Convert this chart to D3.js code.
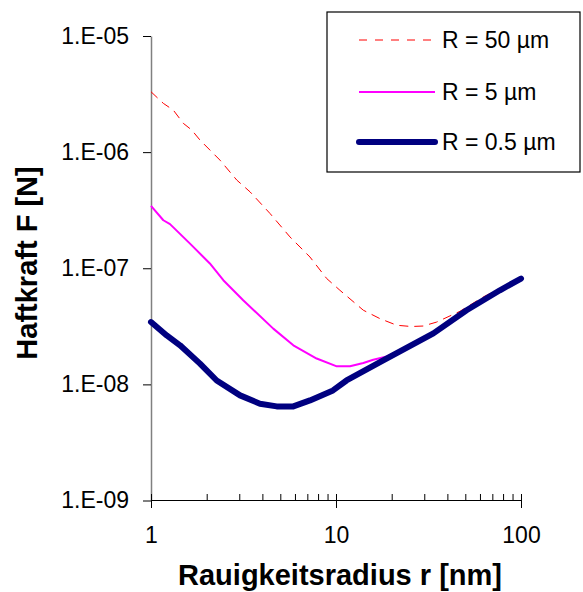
<!DOCTYPE html>
<html>
<head>
<meta charset="utf-8">
<script src="https://cdn.jsdelivr.net/npm/d3@7"></script>
<style>
  body { margin: 0; background: #fff; }
  svg { display: block; font-family: Arial, "Liberation Sans", sans-serif; }
</style>
</head>
<body>
<svg id="chart" width="583" height="592"></svg>
<script>
// ---- data ----
const seriesNames = ["R = 50 µm", "R = 5 µm", "R = 0.5 µm"];

// R = 50 µm (red dashed)
const r50 = [1.0, 1.166, 1.32, 1.495, 1.66, 1.84, 2.36, 2.91, 3.43, 4.40, 5.64, 7.23, 8.91, 10.5, 14.05, 17.3, 21.3, 25.5, 29.6, 35.0, 46.8, 62.5, 76.9, 100];
const f50 = [3.31e-6, 2.63e-6, 2.30e-6, 1.77e-6, 1.55e-6, 1.27e-6, 8.53e-7, 5.74e-7, 4.55e-7, 2.96e-7, 1.86e-7, 1.25e-7, 8.15e-8, 6.46e-8, 4.35e-8, 3.68e-8, 3.23e-8, 3.15e-8, 3.18e-8, 3.44e-8, 4.26e-8, 5.66e-8, 6.7e-8, 8.2e-8];

// R = 5 µm (magenta)
const r5 = [1.0, 1.166, 1.267, 1.625, 2.08, 2.46, 3.15, 4.58, 5.88, 7.86, 10.1, 11.9, 14.05, 15.9, 18.8, 23.1, 26.2, 33.6, 50.8, 76.9, 100];
const f5 = [3.44e-7, 2.59e-7, 2.40e-7, 1.63e-7, 1.10e-7, 7.89e-8, 5.30e-8, 3.02e-8, 2.17e-8, 1.67e-8, 1.43e-8, 1.43e-8, 1.53e-8, 1.63e-8, 1.74e-8, 2.03e-8, 2.27e-8, 2.77e-8, 4.37e-8, 6.5e-8, 8.15e-8];

// R = 0.5 µm (navy, thick)
const r05 = [1.0, 1.216, 1.435, 1.84, 2.265, 3.03, 3.88, 4.78, 5.88, 7.23, 9.63, 11.4, 18.0, 33.6, 50.8, 76.9, 100];
const f05 = [3.44e-8, 2.64e-8, 2.17e-8, 1.51e-8, 1.08e-8, 8.04e-9, 6.82e-9, 6.46e-9, 6.46e-9, 7.28e-9, 8.87e-9, 1.08e-8, 1.61e-8, 2.75e-8, 4.35e-8, 6.46e-8, 8.15e-8];

// ticks
const yTickValues = [1e-9, 1e-8, 1e-7, 1e-6, 1e-5];
const yTickLabels = ["1.E-09", "1.E-08", "1.E-07", "1.E-06", "1.E-05"];
const xMajorValues = [1, 10, 100];
const xMajorLabels = ["1", "10", "100"];
const xMinorValues = [2, 3, 4, 5, 6, 7, 8, 9, 20, 30, 40, 50, 60, 70, 80, 90];

const xTitle = "Rauigkeitsradius r [nm]";
const yTitle = "Haftkraft F [N]";

// ---- drawing ----
const svg = d3.select("#chart");
const x = d3.scaleLog().domain([1, 100]).range([151, 521]);
const y = d3.scaleLog().domain([1e-9, 1e-5]).range([500.5, 36]);

const series = [
  { name: seriesNames[0], r: r50, f: f50, color: "#ff0000", width: 1, dash: "9,6", legendDash: "8,8" },
  { name: seriesNames[1], r: r5, f: f5, color: "#ff00ff", width: 2, dash: null, legendDash: null },
  { name: seriesNames[2], r: r05, f: f05, color: "#000080", width: 6, dash: null, legendDash: null }
];

// Y axis
const yAxis = d3.axisLeft(y)
  .tickValues(yTickValues)
  .tickFormat((d, i) => yTickLabels[i])
  .tickSize(8)
  .tickSizeOuter(0)
  .tickPadding(14);
const gy = svg.append("g").attr("transform", "translate(151,0)").call(yAxis);
gy.select(".domain").attr("stroke", "#808080").attr("stroke-width", 1.5);
gy.selectAll(".tick line").attr("stroke", "#000");
gy.selectAll(".tick text").attr("font-size", 23).attr("fill", "#000")
  .attr("font-family", "Arial, 'Liberation Sans', sans-serif");

// X axis: major ticks (down) + labels
const xAxis = d3.axisBottom(x)
  .tickValues(xMajorValues)
  .tickFormat((d, i) => xMajorLabels[i])
  .tickSize(8)
  .tickSizeOuter(0)
  .tickPadding(19);
const gx = svg.append("g").attr("transform", "translate(0,500)").call(xAxis);
gx.select(".domain").attr("stroke", "#000").attr("stroke-width", 1.2);
gx.selectAll(".tick line").attr("stroke", "#000");
gx.selectAll(".tick text").attr("font-size", 23).attr("fill", "#000")
  .attr("font-family", "Arial, 'Liberation Sans', sans-serif");

// X axis: inward ticks (major + minor)
const xAxisIn = d3.axisTop(x)
  .tickValues(xMajorValues.concat(xMinorValues))
  .tickFormat("")
  .tickSize(6)
  .tickSizeOuter(0);
const gxi = svg.append("g").attr("transform", "translate(0,500)").call(xAxisIn);
gxi.select(".domain").remove();
gxi.selectAll(".tick line").attr("stroke", "#000");

// lines
const line = d3.line().x(d => x(d[0])).y(d => y(d[1])).curve(d3.curveLinear);
series.forEach(s => {
  const pts = s.r.map((r, i) => [r, s.f[i]]);
  svg.append("path")
    .datum(pts)
    .attr("fill", "none")
    .attr("stroke", s.color)
    .attr("stroke-width", s.width)
    .attr("stroke-linejoin", "round")
    .attr("stroke-linecap", s.width > 3 ? "round" : "butt")
    .attr("stroke-dasharray", s.dash)
    .attr("d", line);
});

// legend
const lg = svg.append("g");
lg.append("rect").attr("x", 327).attr("y", 12).attr("width", 253).attr("height", 160)
  .attr("fill", "#fff").attr("stroke", "#000").attr("stroke-width", 1.2);
const rowY = [40, 92, 142];
series.forEach((s, i) => {
  lg.append("line")
    .attr("x1", 359).attr("x2", 435)
    .attr("y1", rowY[i]).attr("y2", rowY[i])
    .attr("stroke", s.color)
    .attr("stroke-width", s.width)
    .attr("stroke-linecap", s.width > 3 ? "round" : "butt")
    .attr("stroke-dasharray", s.legendDash);
  lg.append("text")
    .attr("x", 442).attr("y", rowY[i] + 8)
    .attr("font-size", 23).attr("fill", "#000")
    .text(s.name);
});

// axis titles
svg.append("text")
  .attr("x", 340).attr("y", 585)
  .attr("text-anchor", "middle")
  .attr("font-size", 29).attr("font-weight", "bold").attr("fill", "#000")
  .text(xTitle);
svg.append("text")
  .attr("transform", "translate(37,263) rotate(-90)")
  .attr("text-anchor", "middle")
  .attr("font-size", 29).attr("font-weight", "bold").attr("fill", "#000")
  .text(yTitle);
</script>
</body>
</html>
